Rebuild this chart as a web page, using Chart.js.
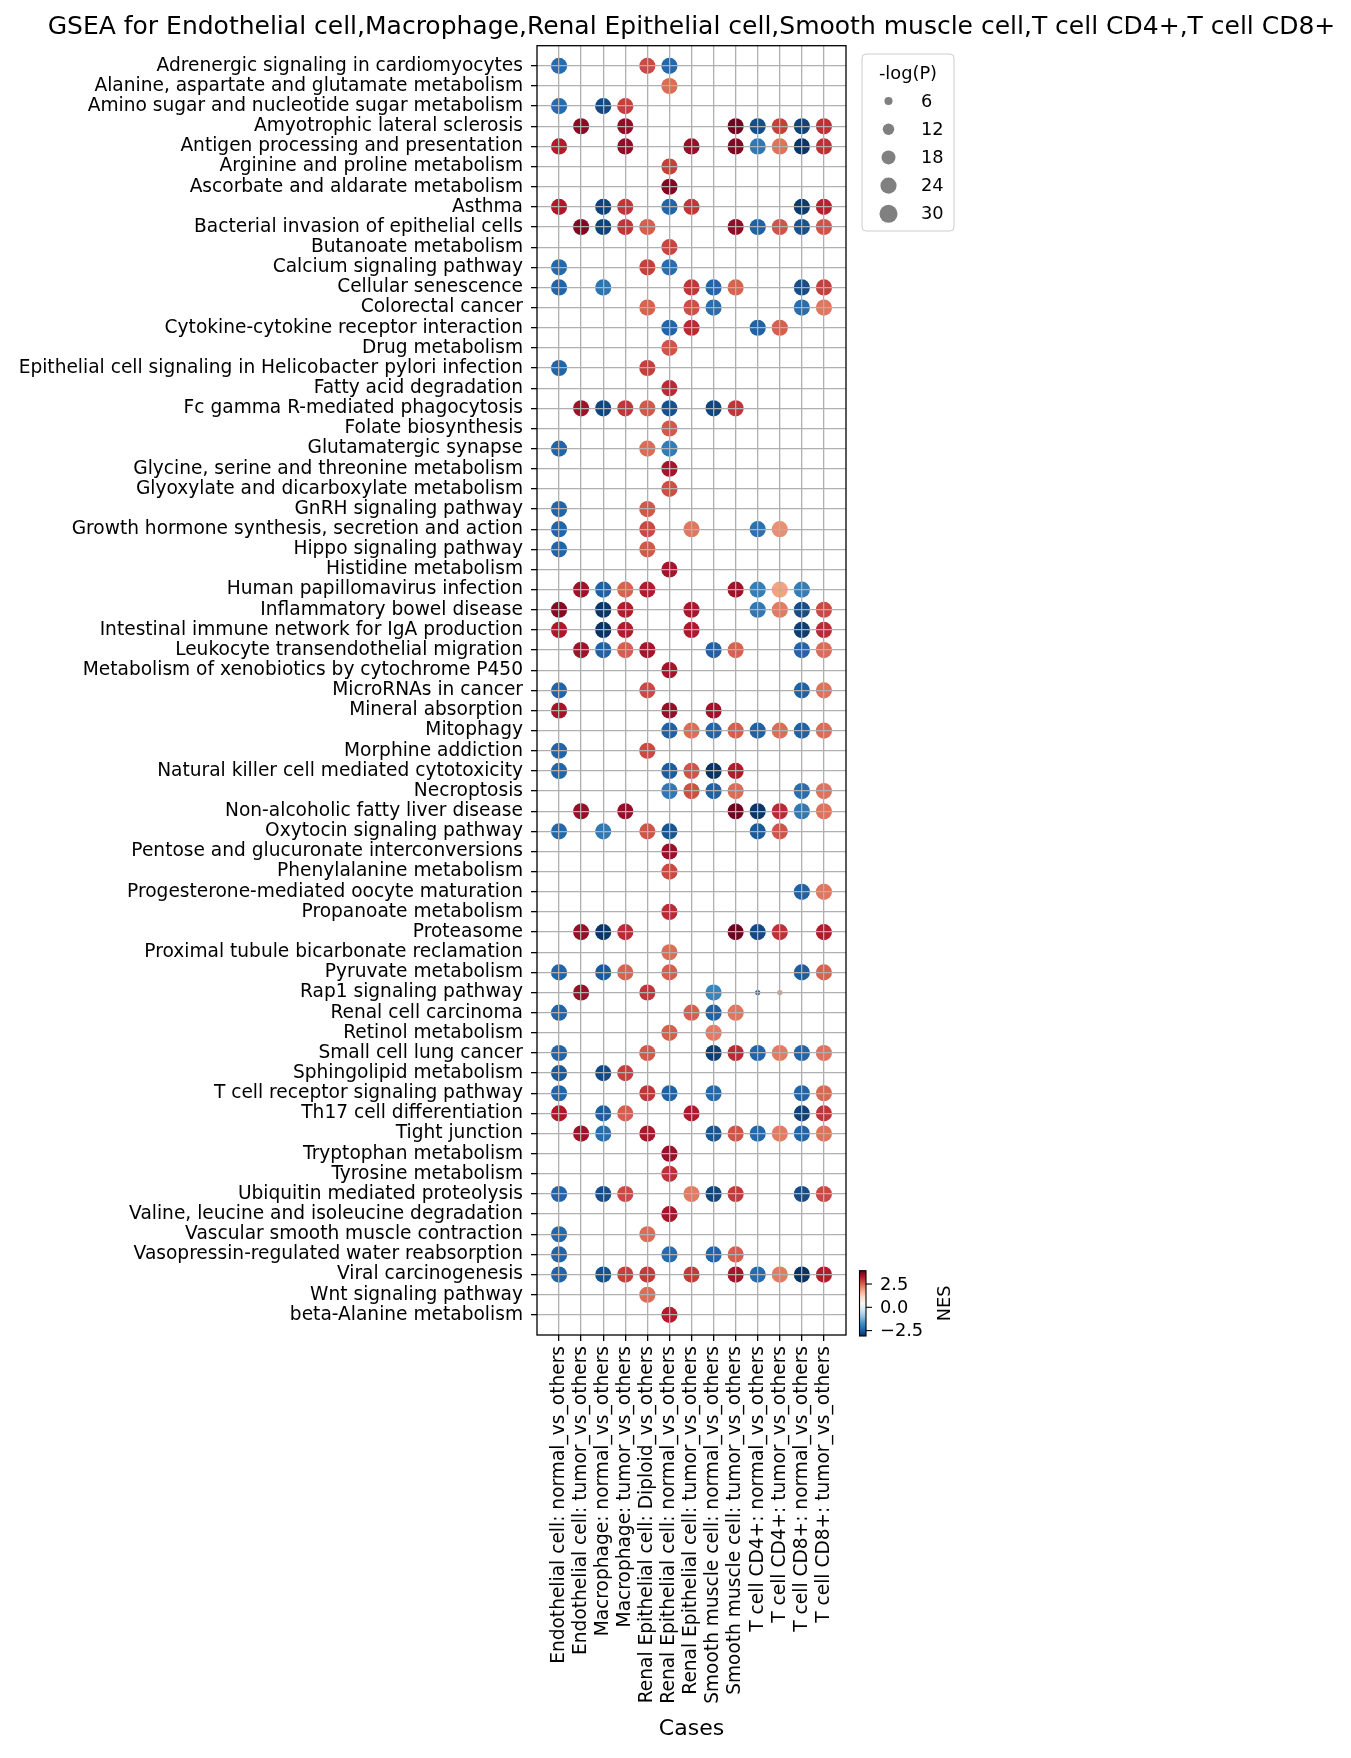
<!DOCTYPE html>
<html>
<head>
<meta charset="utf-8">
<script src="https://cdn.jsdelivr.net/npm/chart.js@4/dist/chart.umd.min.js"></script>
<style>
  body { margin: 0; background: #fff; }
  #wrap { width: 1351px; height: 1758px; }
</style>
</head>
<body>
<div id="wrap"><canvas id="gsea" width="1351" height="1758"></canvas></div>
<script>
const o = null;

const chartTitle = 'GSEA for Endothelial cell,Macrophage,Renal Epithelial cell,Smooth muscle cell,T cell CD4+,T cell CD8+';

const cases = [
    'Endothelial cell: normal_vs_others',
    'Endothelial cell: tumor_vs_others',
    'Macrophage: normal_vs_others',
    'Macrophage: tumor_vs_others',
    'Renal Epithelial cell: Diploid_vs_others',
    'Renal Epithelial cell: normal_vs_others',
    'Renal Epithelial cell: tumor_vs_others',
    'Smooth muscle cell: normal_vs_others',
    'Smooth muscle cell: tumor_vs_others',
    'T cell CD4+: normal_vs_others',
    'T cell CD4+: tumor_vs_others',
    'T cell CD8+: normal_vs_others',
    'T cell CD8+: tumor_vs_others'
];

const pathways = [
    'Adrenergic signaling in cardiomyocytes',
    'Alanine, aspartate and glutamate metabolism',
    'Amino sugar and nucleotide sugar metabolism',
    'Amyotrophic lateral sclerosis',
    'Antigen processing and presentation',
    'Arginine and proline metabolism',
    'Ascorbate and aldarate metabolism',
    'Asthma',
    'Bacterial invasion of epithelial cells',
    'Butanoate metabolism',
    'Calcium signaling pathway',
    'Cellular senescence',
    'Colorectal cancer',
    'Cytokine-cytokine receptor interaction',
    'Drug metabolism',
    'Epithelial cell signaling in Helicobacter pylori infection',
    'Fatty acid degradation',
    'Fc gamma R-mediated phagocytosis',
    'Folate biosynthesis',
    'Glutamatergic synapse',
    'Glycine, serine and threonine metabolism',
    'Glyoxylate and dicarboxylate metabolism',
    'GnRH signaling pathway',
    'Growth hormone synthesis, secretion and action',
    'Hippo signaling pathway',
    'Histidine metabolism',
    'Human papillomavirus infection',
    'Inflammatory bowel disease',
    'Intestinal immune network for IgA production',
    'Leukocyte transendothelial migration',
    'Metabolism of xenobiotics by cytochrome P450',
    'MicroRNAs in cancer',
    'Mineral absorption',
    'Mitophagy',
    'Morphine addiction',
    'Natural killer cell mediated cytotoxicity',
    'Necroptosis',
    'Non-alcoholic fatty liver disease',
    'Oxytocin signaling pathway',
    'Pentose and glucuronate interconversions',
    'Phenylalanine metabolism',
    'Progesterone-mediated oocyte maturation',
    'Propanoate metabolism',
    'Proteasome',
    'Proximal tubule bicarbonate reclamation',
    'Pyruvate metabolism',
    'Rap1 signaling pathway',
    'Renal cell carcinoma',
    'Retinol metabolism',
    'Small cell lung cancer',
    'Sphingolipid metabolism',
    'T cell receptor signaling pathway',
    'Th17 cell differentiation',
    'Tight junction',
    'Tryptophan metabolism',
    'Tyrosine metabolism',
    'Ubiquitin mediated proteolysis',
    'Valine, leucine and isoleucine degradation',
    'Vascular smooth muscle contraction',
    'Vasopressin-regulated water reabsorption',
    'Viral carcinogenesis',
    'Wnt signaling pathway',
    'beta-Alanine metabolism'
];

// NES per pathway (rows) and case (columns), null = not significant
const nes = [
    [-2.3, o, o, o, 2.74, -2.35, o, o, o, o, o, o, o],
    [o, o, o, o, o, 2.4, o, o, o, o, o, o, o],
    [-2.3, o, -2.75, 2.85, o, o, o, o, o, o, o, o, o],
    [o, 3.6, o, 3.55, o, o, o, o, 3.85, -2.7, 2.85, -2.85, 3.0],
    [3.2, o, o, 3.55, o, o, 3.5, o, 3.7, -2.1, 2.35, -3.0, 3.0],
    [o, o, o, o, o, 2.85, o, o, o, o, o, o, o],
    [o, o, o, o, o, 3.7, o, o, o, o, o, o, o],
    [3.25, o, -2.85, 2.95, o, -2.4, 2.95, o, o, o, o, -2.95, 3.15],
    [o, 3.7, -2.85, 2.95, 2.55, o, o, o, 3.55, -2.45, 2.65, -2.65, 2.65],
    [o, o, o, o, o, 2.8, o, o, o, o, o, o, o],
    [-2.35, o, o, o, 2.85, -2.25, o, o, o, o, o, o, o],
    [-2.4, o, -2.15, o, o, o, 2.95, -2.4, 2.5, o, o, -2.7, 2.85],
    [o, o, o, o, 2.5, o, 2.7, -2.25, o, o, o, -2.25, 2.3],
    [o, o, o, o, o, -2.4, 3.05, o, o, -2.45, 2.55, o, o],
    [o, o, o, o, o, 2.65, o, o, o, o, o, o, o],
    [-2.4, o, o, o, 2.85, o, o, o, o, o, o, o, o],
    [o, o, o, o, o, 3.05, o, o, o, o, o, o, o],
    [o, 3.4, -2.8, 2.95, 2.6, -2.65, o, -2.8, 2.95, o, o, o, o],
    [o, o, o, o, o, 2.6, o, o, o, o, o, o, o],
    [-2.4, o, o, o, 2.4, -2.05, o, o, o, o, o, o, o],
    [o, o, o, o, o, 3.35, o, o, o, o, o, o, o],
    [o, o, o, o, o, 2.7, o, o, o, o, o, o, o],
    [-2.4, o, o, o, 2.6, o, o, o, o, o, o, o, o],
    [-2.4, o, o, o, 2.75, o, 2.3, o, o, -2.2, 2.05, o, o],
    [-2.4, o, o, o, 2.6, o, o, o, o, o, o, o, o],
    [o, o, o, o, o, 3.35, o, o, o, o, o, o, o],
    [o, 3.4, -2.45, 2.5, 3.2, o, o, o, 3.4, -2.0, 1.85, -2.0, o],
    [3.65, o, -3.0, 3.2, o, o, 3.3, o, o, -2.1, 2.25, -2.7, 2.75],
    [3.25, o, -3.05, 3.2, o, o, 3.25, o, o, o, o, -2.9, 3.05],
    [o, 3.4, -2.45, 2.55, 3.35, o, o, -2.45, 2.5, o, o, -2.4, 2.4],
    [o, o, o, o, o, 3.35, o, o, o, o, o, o, o],
    [-2.4, o, o, o, 2.75, o, o, o, o, o, o, -2.45, 2.35],
    [3.35, o, o, o, o, 3.5, o, 3.4, o, o, o, o, o],
    [o, o, o, o, o, -2.45, 2.4, -2.4, 2.55, -2.45, 2.4, -2.45, 2.4],
    [-2.4, o, o, o, 2.75, o, o, o, o, o, o, o, o],
    [-2.4, o, o, o, o, -2.5, 2.65, -3.05, 3.2, o, o, o, o],
    [o, o, o, o, o, -2.1, 2.7, -2.45, 2.4, o, o, -2.25, 2.35],
    [o, 3.5, o, 3.5, o, o, o, o, 3.85, -3.0, 3.05, -2.1, 2.35],
    [-2.35, o, -2.1, o, 2.65, -2.6, o, o, o, -2.55, 2.65, o, o],
    [o, o, o, o, o, 3.45, o, o, o, o, o, o, o],
    [o, o, o, o, o, 2.75, o, o, o, o, o, o, o],
    [o, o, o, o, o, o, o, o, o, o, o, -2.45, 2.3],
    [o, o, o, o, o, 3.05, o, o, o, o, o, o, o],
    [o, 3.5, -3.0, 3.05, o, o, o, o, 3.85, -2.75, 3.0, o, 3.2],
    [o, o, o, o, o, 2.4, o, o, o, o, o, o, o],
    [-2.4, o, -2.55, 2.5, o, 2.55, o, o, o, o, o, -2.5, 2.5],
    [o, 3.45, o, o, 2.95, o, o, -1.9, o, -2.4, 2.0, o, o],
    [-2.4, o, o, o, o, o, 2.55, -2.45, 2.3, o, o, o, o],
    [o, o, o, o, o, 2.55, o, 2.25, o, o, o, o, o],
    [-2.4, o, o, o, 2.6, o, o, -2.9, 3.05, -2.4, 2.25, -2.4, 2.35],
    [-2.55, o, -2.75, 2.85, o, o, o, o, o, o, o, o, o],
    [-2.4, o, o, o, 2.95, -2.45, o, -2.35, o, o, o, -2.4, 2.45],
    [3.25, o, -2.5, 2.55, o, o, 3.25, o, o, o, o, -2.85, 2.95],
    [o, 3.4, -2.25, o, 3.3, o, o, -2.6, 2.65, -2.35, 2.25, -2.4, 2.35],
    [o, o, o, o, o, 3.45, o, o, o, o, o, o, o],
    [o, o, o, o, o, 3.0, o, o, o, o, o, o, o],
    [-2.4, o, -2.7, 2.75, o, o, 2.25, -2.8, 2.9, o, o, -2.7, 2.75],
    [o, o, o, o, o, 3.35, o, o, o, o, o, o, o],
    [-2.35, o, o, o, 2.4, o, o, o, o, o, o, o, o],
    [-2.4, o, o, o, o, -2.3, o, -2.4, 2.55, o, o, o, o],
    [-2.4, o, -2.65, 2.85, 2.9, o, 2.9, o, 3.35, -2.3, 2.25, -3.05, 3.2],
    [o, o, o, o, 2.4, o, o, o, o, o, o, o, o],
    [o, o, o, o, o, 3.2, o, o, o, o, o, o, o]
];

// -log(P) per pathway and case (marker size)
const logP = [
    [24, o, o, o, 24, 24, o, o, o, o, o, o, o],
    [o, o, o, o, o, 24, o, o, o, o, o, o, o],
    [24, o, 24, 24, o, o, o, o, o, o, o, o, o],
    [o, 24, o, 24, o, o, o, o, 24, 24, 24, 24, 24],
    [24, o, o, 24, o, o, 24, o, 24, 24, 24, 24, 24],
    [o, o, o, o, o, 24, o, o, o, o, o, o, o],
    [o, o, o, o, o, 24, o, o, o, o, o, o, o],
    [24, o, 24, 24, o, 24, 24, o, o, o, o, 24, 24],
    [o, 24, 24, 24, 24, o, o, o, 24, 24, 24, 24, 24],
    [o, o, o, o, o, 24, o, o, o, o, o, o, o],
    [24, o, o, o, 24, 24, o, o, o, o, o, o, o],
    [24, o, 24, o, o, o, 24, 24, 24, o, o, 24, 24],
    [o, o, o, o, 24, o, 24, 24, o, o, o, 24, 24],
    [o, o, o, o, o, 24, 24, o, o, 24, 24, o, o],
    [o, o, o, o, o, 24, o, o, o, o, o, o, o],
    [24, o, o, o, 24, o, o, o, o, o, o, o, o],
    [o, o, o, o, o, 24, o, o, o, o, o, o, o],
    [o, 24, 24, 24, 24, 24, o, 24, 24, o, o, o, o],
    [o, o, o, o, o, 24, o, o, o, o, o, o, o],
    [24, o, o, o, 24, 24, o, o, o, o, o, o, o],
    [o, o, o, o, o, 24, o, o, o, o, o, o, o],
    [o, o, o, o, o, 24, o, o, o, o, o, o, o],
    [24, o, o, o, 24, o, o, o, o, o, o, o, o],
    [24, o, o, o, 24, o, 24, o, o, 24, 24, o, o],
    [24, o, o, o, 24, o, o, o, o, o, o, o, o],
    [o, o, o, o, o, 24, o, o, o, o, o, o, o],
    [o, 24, 24, 24, 24, o, o, o, 24, 24, 24, 24, o],
    [24, o, 24, 24, o, o, 24, o, o, 24, 24, 24, 24],
    [24, o, 24, 24, o, o, 24, o, o, o, o, 24, 24],
    [o, 24, 24, 24, 24, o, o, 24, 24, o, o, 24, 24],
    [o, o, o, o, o, 24, o, o, o, o, o, o, o],
    [24, o, o, o, 24, o, o, o, o, o, o, 24, 24],
    [24, o, o, o, o, 24, o, 24, o, o, o, o, o],
    [o, o, o, o, o, 24, 24, 24, 24, 24, 24, 24, 24],
    [24, o, o, o, 24, o, o, o, o, o, o, o, o],
    [24, o, o, o, o, 24, 24, 24, 24, o, o, o, o],
    [o, o, o, o, o, 24, 24, 24, 24, o, o, 24, 24],
    [o, 24, o, 24, o, o, o, o, 24, 24, 24, 24, 24],
    [24, o, 24, o, 24, 24, o, o, o, 24, 24, o, o],
    [o, o, o, o, o, 24, o, o, o, o, o, o, o],
    [o, o, o, o, o, 24, o, o, o, o, o, o, o],
    [o, o, o, o, o, o, o, o, o, o, o, 24, 24],
    [o, o, o, o, o, 24, o, o, o, o, o, o, o],
    [o, 24, 24, 24, o, o, o, o, 24, 24, 24, o, 24],
    [o, o, o, o, o, 24, o, o, o, o, o, o, o],
    [24, o, 24, 24, o, 24, o, o, o, o, o, 24, 24],
    [o, 24, o, o, 24, o, o, 24, o, 2.5, 2.5, o, o],
    [24, o, o, o, o, o, 24, 24, 24, o, o, o, o],
    [o, o, o, o, o, 24, o, 24, o, o, o, o, o],
    [24, o, o, o, 24, o, o, 24, 24, 24, 24, 24, 24],
    [24, o, 24, 24, o, o, o, o, o, o, o, o, o],
    [24, o, o, o, 24, 24, o, 24, o, o, o, 24, 24],
    [24, o, 24, 24, o, o, 24, o, o, o, o, 24, 24],
    [o, 24, 24, o, 24, o, o, 24, 24, 24, 24, 24, 24],
    [o, o, o, o, o, 24, o, o, o, o, o, o, o],
    [o, o, o, o, o, 24, o, o, o, o, o, o, o],
    [24, o, 24, 24, o, o, 24, 24, 24, o, o, 24, 24],
    [o, o, o, o, o, 24, o, o, o, o, o, o, o],
    [24, o, o, o, 24, o, o, o, o, o, o, o, o],
    [24, o, o, o, o, 24, o, 24, 24, o, o, o, o],
    [24, o, 24, 24, 24, o, 24, o, 24, 24, 24, 24, 24],
    [o, o, o, o, 24, o, o, o, o, o, o, o, o],
    [o, o, o, o, o, 24, o, o, o, o, o, o, o]
];

const sizeLegendValues = [6, 12, 18, 24, 30];
const colorbarTicks = [2.5, 0.0, -2.5];
const nesMin = -3.08;
const nesMax = 3.93;

// RdBu_r
const rdbuR = ['#053061', '#2166ac', '#4393c3', '#92c5de', '#d1e5f0', '#f7f7f7',
               '#fddbc7', '#f4a582', '#d6604d', '#b2182b', '#67001f'];

function hexToRgb(h) {
    return [1, 3, 5].map(i => parseInt(h.slice(i, i + 2), 16));
}

function nesColor(v) {
    let t = (v - nesMin) / (nesMax - nesMin);
    t = Math.min(1, Math.max(0, t));
    const p = t * 10;
    const i = Math.min(9, Math.floor(p));
    const f = p - i;
    const a = hexToRgb(rdbuR[i]), b = hexToRgb(rdbuR[i + 1]);
    const c = a.map((x, k) => Math.round(x + (b[k] - x) * f));
    return `rgb(${c[0]},${c[1]},${c[2]})`;
}

// marker area proportional to -log(P)
function markerRadius(v) {
    return 1.65 * Math.sqrt(v);
}

const points = [];
pathways.forEach((p, r) => {
    cases.forEach((c, k) => {
        if (nes[r][k] !== null) {
            points.push({ x: k, y: r, nes: nes[r][k], logP: logP[r][k] });
        }
    });
});

const FONT = 'DejaVu Sans';
const TICK_SIZE = 18.6;
const SMALL_SIZE = 17.8;

const decorations = {
    id: 'decorations',
    afterDraw(chart) {
        const { ctx, chartArea: a } = chart;
        ctx.save();

        // axes frame
        ctx.strokeStyle = '#000';
        ctx.lineWidth = 1.3;
        ctx.strokeRect(a.left, a.top, a.right - a.left, a.bottom - a.top);

        // title
        ctx.fillStyle = '#000';
        ctx.font = `25px "${FONT}"`;
        ctx.textAlign = 'center';
        ctx.textBaseline = 'alphabetic';
        ctx.fillText(chartTitle, (a.left + a.right) / 2, 34);

        // size legend
        const lx = 862, ly = 54, lw = 92, lh = 177;
        ctx.beginPath();
        ctx.roundRect(lx, ly, lw, lh, 4);
        ctx.fillStyle = '#fff';
        ctx.fill();
        ctx.strokeStyle = '#cccccc';
        ctx.lineWidth = 1;
        ctx.stroke();
        ctx.fillStyle = '#000';
        ctx.font = `${SMALL_SIZE}px "${FONT}"`;
        ctx.textBaseline = 'middle';
        ctx.textAlign = 'center';
        ctx.fillText('-log(P)', 908, 74);
        sizeLegendValues.forEach((v, i) => {
            const y = 101 + i * 28.2;
            ctx.beginPath();
            ctx.arc(888.5, y, markerRadius(v), 0, Math.PI * 2);
            ctx.fillStyle = '#808080';
            ctx.fill();
            ctx.fillStyle = '#000';
            ctx.textAlign = 'left';
            ctx.fillText(String(v), 921, y + 1);
        });

        // colorbar
        const cx = 859.5, cw = 6.5, ct = 1270.7, cb = 1336;
        const grad = ctx.createLinearGradient(0, cb, 0, ct);
        rdbuR.forEach((c, i) => grad.addColorStop(i / 10, c));
        ctx.fillStyle = grad;
        ctx.fillRect(cx, ct, cw, cb - ct);
        ctx.strokeStyle = '#000';
        ctx.lineWidth = 1.1;
        ctx.strokeRect(cx, ct, cw, cb - ct);
        ctx.fillStyle = '#000';
        ctx.textAlign = 'left';
        ctx.textBaseline = 'middle';
        colorbarTicks.forEach(v => {
            const y = cb - (v - nesMin) / (nesMax - nesMin) * (cb - ct);
            ctx.beginPath();
            ctx.moveTo(cx + cw, y);
            ctx.lineTo(cx + cw + 6, y);
            ctx.stroke();
            const txt = v < 0 ? '\u2212' + Math.abs(v).toFixed(1) : v.toFixed(1);
            ctx.fillText(txt, 880, y + 1);
        });
        ctx.save();
        ctx.translate(945, (ct + cb) / 2);
        ctx.rotate(-Math.PI / 2);
        ctx.textAlign = 'center';
        ctx.fillText('NES', 0, 0);
        ctx.restore();

        ctx.restore();
    }
};

const gridStyle = { color: '#b0b0b0', lineWidth: 1.3, tickColor: '#000', tickLength: 6, tickWidth: 1.3, z: 1 };

new Chart(document.getElementById('gsea'), {
    type: 'scatter',
    data: {
        datasets: [{
            data: points,
            pointRadius: c => markerRadius(c.raw.logP),
            pointBackgroundColor: c => nesColor(c.raw.nes),
            pointBorderWidth: 0,
            pointHoverRadius: c => markerRadius(c.raw.logP)
        }]
    },
    options: {
        responsive: false,
        devicePixelRatio: 1,
        animation: false,
        events: [],
        layout: { padding: { top: 45.7, right: 505, bottom: 0, left: 0 } },
        plugins: {
            legend: { display: false },
            tooltip: { enabled: false }
        },
        scales: {
            x: {
                type: 'linear',
                min: -1,
                max: 13,
                afterBuildTicks: axis => { axis.ticks = cases.map((c, i) => ({ value: i })); },
                afterFit: scale => { scale.height = 423; },
                ticks: {
                    autoSkip: false,
                    maxRotation: 90,
                    minRotation: 90,
                    padding: 5,
                    color: '#000',
                    font: { family: FONT, size: TICK_SIZE },
                    callback: v => cases[v] ?? ''
                },
                grid: gridStyle,
                border: { display: false },
                title: {
                    display: true,
                    text: 'Cases',
                    color: '#000',
                    font: { family: FONT, size: 22 },
                    padding: { top: 4, bottom: 16 }
                }
            },
            y: {
                type: 'linear',
                min: -1,
                max: 63,
                reverse: true,
                afterBuildTicks: axis => { axis.ticks = pathways.map((p, i) => ({ value: i })); },
                afterFit: scale => { scale.width = 537; },
                ticks: {
                    autoSkip: false,
                    padding: 8,
                    color: '#000',
                    font: { family: FONT, size: TICK_SIZE },
                    callback: v => pathways[v] ?? ''
                },
                grid: gridStyle,
                border: { display: false }
            }
        }
    },
    plugins: [decorations]
});
</script>
</body>
</html>
